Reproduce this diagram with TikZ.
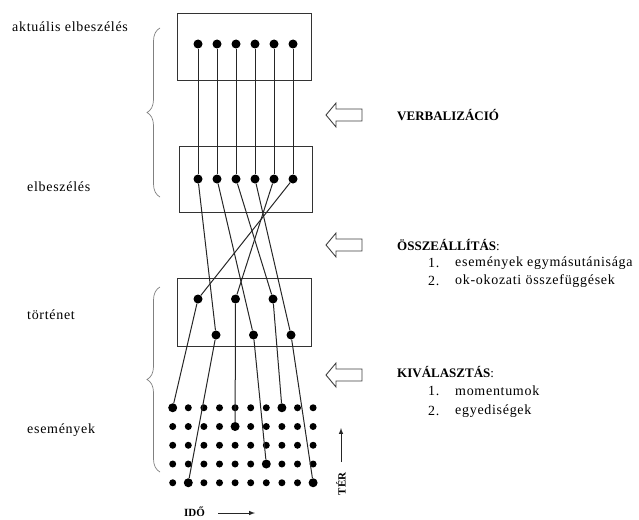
\documentclass[tikz,border=0pt]{standalone}
\usepackage{fontspec}
\setmainfont{Liberation Serif}
\newfontfamily\spacedfont[LetterSpace=5]{Liberation Serif}
\usetikzlibrary{decorations.pathreplacing}

\begin{document}
\begin{tikzpicture}[
    x=1pt, y=-1pt,
    font=\spacedfont\fontsize{14}{16}\selectfont,
    box/.style={draw=black!80, line width=0.9pt, minimum width=134pt, minimum height=67pt, inner sep=0pt},
    dot/.style={circle, fill=black, inner sep=0pt, minimum size=9pt},
    gdot/.style={circle, fill=black, inner sep=0pt, minimum size=7pt},
    link/.style={line width=1pt, draw=black!85},
    brc/.style={decorate, decoration={brace, amplitude=13pt}, draw=gray, line width=0.7pt},
    hollow/.style={draw=black!75, line width=0.9pt, fill=white, line join=miter},
    txt/.style={anchor=west, inner sep=0pt},
    headtxt/.style={anchor=west, inner sep=0pt, font=\rmfamily\bfseries\fontsize{13}{15}\selectfont},
    axistxt/.style={inner sep=0pt, font=\rmfamily\bfseries\fontsize{11}{13}\selectfont},
    axisarrow/.style={-latex, line width=1pt, draw=black!85}
]
\useasboundingbox (0,0) rectangle (639,519);

% boxes
\node[box] (akt) at (244,46.5) {};
\node[box, minimum width=133pt, minimum height=66pt] (elb) at (245.5,179) {};
\node[box, minimum height=68pt] (tort) at (244,312) {};

% dots of the two upper boxes
\foreach \i in {1,...,6} {
  \node[dot] (a\i) at ({179+19*\i},44) {};
  \node[dot] (e\i) at ({179+19*\i},179) {};
  \draw[link] (a\i) -- (e\i);
}

% dots of the story box
\foreach \i in {1,2,3} {
  \node[dot] (tu\i) at ({160.5+37.5*\i},299) {};
  \node[dot] (tl\i) at ({178.5+37.5*\i},335) {};
}

% grid of events
\foreach \c in {1,...,10}
  \foreach \r in {1,...,5}
    \node[gdot] (g\c-\r) at ({157.1+15.6*\c},{389+18.75*\r}) {};
\foreach \g in {1-1,2-5,5-2,7-4,8-1,10-5}
  \node[dot] (big\g) at (g\g) {};

% arrangement
\draw[link] (e1) -- (tl1);
\draw[link] (e2) -- (tl2);
\draw[link] (e3) -- (tu3);
\draw[link] (e4) -- (tl3);
\draw[link] (e5) -- (tu2);
\draw[link] (e6) -- (tu1);

% selection
\draw[link] (tu1) -- (big1-1);
\draw[link] (tl1) -- (big2-5);
\draw[link] (tu2) -- (big5-2);
\draw[link] (tl2) -- (big7-4);
\draw[link] (tu3) -- (big8-1);
\draw[link] (tl3) -- (big10-5);

% braces
\draw[brc] (160,197) -- (160,28);
\draw[brc] (160,472) -- (160,287);

% hollow arrows
\foreach \y in {115,245,375}
  \draw[hollow] (326,\y) -- ++(10,-12) -- ++(0,6) -- ++(26,0) -- ++(0,12)
    -- ++(-26,0) -- ++(0,6) -- cycle;

% left labels
\node[txt] (lakt) at (12,27) {aktuális elbeszélés};
\node[txt] (lelb) at (27,187) {elbeszélés};
\node[txt] (ltort) at (27,315) {történet};
\node[txt] (lesem) at (27,430) {események};

% right labels
\node[headtxt] (verb) at (397,115) {VERBALIZÁCIÓ};
\node[headtxt] (ossz) at (397,245) {ÖSSZEÁLLÍTÁS\textmd{:}};
\node[txt] (ossz1) at (428,263) {1.};
\node[txt] (ossz1t) at (455,263) {események egymásutánisága};
\node[txt] (ossz2) at (428,281) {2.};
\node[txt] (ossz2t) at (455,281) {ok-okozati összefüggések};
\node[headtxt] (kiv) at (397,372) {KIVÁLASZTÁS\textmd{:}};
\node[txt] (kiv1) at (428,391) {1.};
\node[txt] (kiv1t) at (455,391) {momentumok};
\node[txt] (kiv2) at (428,411) {2.};
\node[txt] (kiv2t) at (455,411) {egyediségek};

% axes
\coordinate (ter0) at (341,462);
\coordinate (ter1) at (341,428);
\draw[axisarrow] (ter0) -- (ter1);
\node[axistxt, rotate=90] (ter) at (341,484) {TÉR};
\coordinate (ido0) at (218,513);
\coordinate (ido1) at (255,513);
\draw[axisarrow] (ido0) -- (ido1);
\node[axistxt, anchor=base west] (ido) at (184,516.5) {IDŐ};
\end{tikzpicture}
\end{document}
